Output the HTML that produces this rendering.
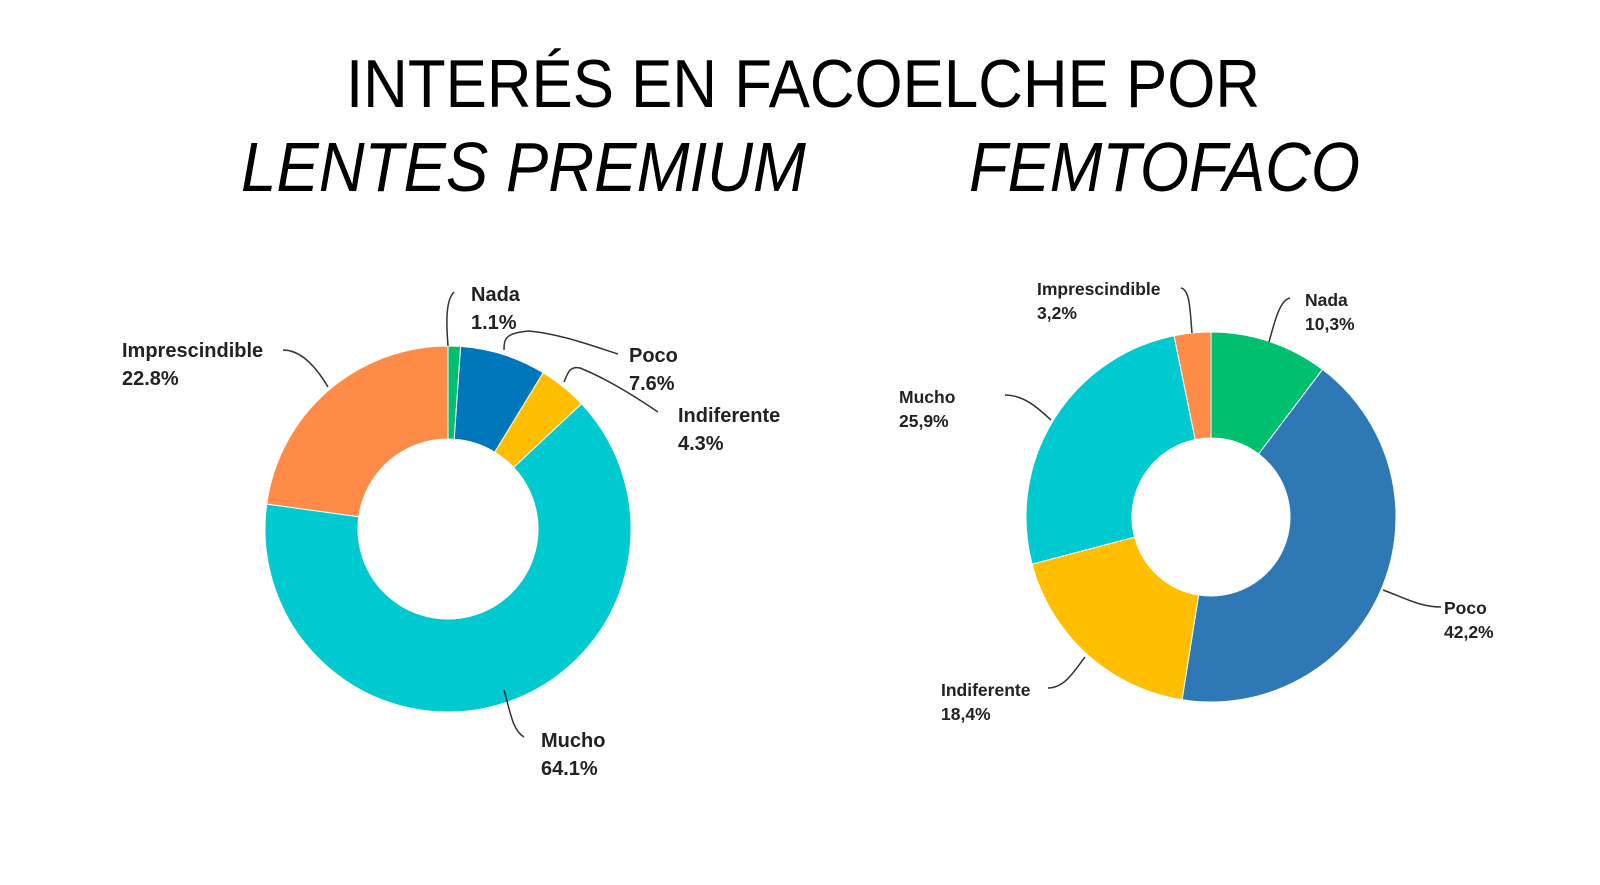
<!DOCTYPE html>
<html><head><meta charset="utf-8"><style>
html,body{margin:0;padding:0;background:#fff;}
svg{display:block;}
.t{font-family:"Liberation Sans",sans-serif;fill:#000;}
.lb{font-family:"Liberation Sans",sans-serif;font-weight:bold;fill:#222;}
</style></head><body>
<svg id="c" width="1600" height="885" viewBox="0 0 1600 885">
<text class="t" x="346" y="107" font-size="68" textLength="914" lengthAdjust="spacingAndGlyphs">INTERÉS EN FACOELCHE POR</text>
<text class="t" x="241" y="191" font-size="70" font-style="italic" textLength="565" lengthAdjust="spacingAndGlyphs">LENTES PREMIUM</text>
<text class="t" x="969" y="191" font-size="70" font-style="italic" textLength="391" lengthAdjust="spacingAndGlyphs">FEMTOFACO</text>
<g id="left"></g>
<g id="right"></g>
<g fill="none" stroke="#333" stroke-width="1.5">
<path d="M448,346 C446,320 446,300 454,292"/>
<path d="M504,350 C504,338 506,333 529,331 C560,334 590,345 618,354"/>
<path d="M564,382 C568,372 570,366 580,368 C610,380 640,400 658,412"/>
<path d="M283,350 C300,350 315,365 328,387"/>
<path d="M504,690 C510,710 512,730 524,737"/>
<path d="M1181,288 C1190,290 1190,310 1192,333"/>
<path d="M1290,298 C1280,300 1275,320 1269,342"/>
<path d="M1005,395 C1025,395 1040,410 1051,420"/>
<path d="M1383,590 C1405,598 1420,607 1441,607"/>
<path d="M1048,688 C1065,688 1075,670 1085,657"/>
</g>
<g id="labels"></g>
</svg>
<script>
const leftCategories = ["Nada","Poco","Indiferente","Mucho","Imprescindible"];
const leftValues = [1.1, 7.6, 4.3, 64.1, 22.8];
const leftLabels = ["1.1%","7.6%","4.3%","64.1%","22.8%"];
const leftColors = ["#00BF6F","#0077BA","#FFBF00","#00C9CF","#FF8B48"];
const rightCategories = ["Nada","Poco","Indiferente","Mucho","Imprescindible"];
const rightValues = [10.3, 42.2, 18.4, 25.9, 3.2];
const rightLabels = ["10,3%","42,2%","18,4%","25,9%","3,2%"];
const rightColors = ["#00BF6F","#2E79B5","#FFBF00","#00C9CF","#FF8B48"];

const NS = "http://www.w3.org/2000/svg";
function pt(cx, cy, r, a){ return [cx + r*Math.sin(a), cy - r*Math.cos(a)]; }
function donut(gid, cats, vals, colors, cx, cy, R, r){
  const g = document.getElementById(gid);
  const total = vals.reduce((s,v)=>s+v,0);
  let a0 = 0;
  vals.forEach((v,i)=>{
    const a1 = a0 + v/total*2*Math.PI;
    const large = (a1-a0) > Math.PI ? 1 : 0;
    const p1 = pt(cx,cy,R,a0), p2 = pt(cx,cy,R,a1), p3 = pt(cx,cy,r,a1), p4 = pt(cx,cy,r,a0);
    const p = document.createElementNS(NS,"path");
    p.setAttribute("d", `M${p1[0]},${p1[1]} A${R},${R} 0 ${large} 1 ${p2[0]},${p2[1]} L${p3[0]},${p3[1]} A${r},${r} 0 ${large} 0 ${p4[0]},${p4[1]} Z`);
    p.setAttribute("fill", colors[i]);
    p.setAttribute("stroke", "#fff");
    p.setAttribute("stroke-width", "1");
    
    
    g.appendChild(p);
    a0 = a1;
  });
}
donut("left", leftCategories, leftValues, leftColors, 448, 529, 183, 90);
donut("right", rightCategories, rightValues, rightColors, 1211, 517, 185, 79);

const leftPos = [[471,294],[629,355],[678,415],[541,740],[122,350]];
const rightPos = [[1305,300],[1444,608],[941,690],[899,397],[1037,289]];
function labels(side, cats, vals, pos, fs, gap){
  const g = document.getElementById("labels");
  cats.forEach((c,i)=>{
    const t = document.createElementNS(NS,"text");
    t.setAttribute("class","lb");
    t.setAttribute("x", pos[i][0]);
    t.setAttribute("y", pos[i][1] + fs*0.35);
    t.setAttribute("font-size", fs);
    t.textContent = c;
    
    
    g.appendChild(t);
    const v = document.createElementNS(NS,"text");
    v.setAttribute("class","lb");
    v.setAttribute("x", pos[i][0]);
    v.setAttribute("y", pos[i][1] + gap + fs*0.35);
    v.setAttribute("font-size", fs);
    v.textContent = vals[i];
    
    
    g.appendChild(v);
  });
}
labels("left", leftCategories, leftLabels, leftPos, 20, 28);
labels("right", rightCategories, rightLabels, rightPos, 17.5, 24);
</script>
</body></html>
